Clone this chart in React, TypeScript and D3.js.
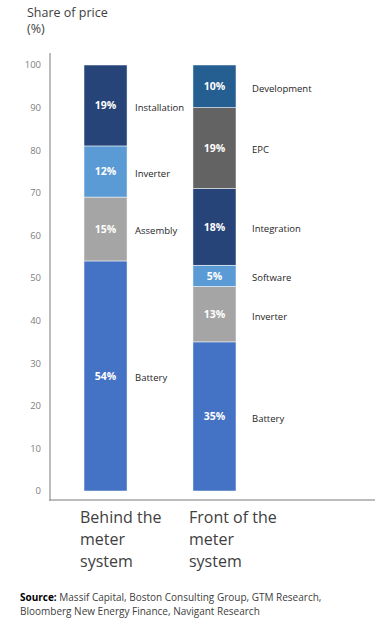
import { useEffect, useRef } from 'react'
import * as d3 from 'd3'

const systems = ['Behind the meter system', 'Front of the meter system']
const systemLines = [['Behind the', 'meter', 'system'], ['Front of the', 'meter', 'system']]

// segments bottom to top
const behindParts = ['Battery', 'Assembly', 'Inverter', 'Installation']
const behindShares = [54, 15, 12, 19]
const behindColors = ['#4472C4', '#A5A5A5', '#5B9BD5', '#264478']

const frontParts = ['Battery', 'Inverter', 'Software', 'Integration', 'EPC', 'Development']
const frontShares = [35, 13, 5, 18, 19, 10]
const frontColors = ['#4472C4', '#A5A5A5', '#5B9BD5', '#264478', '#636363', '#255E91']

const yTicks = [0, 10, 20, 30, 40, 50, 60, 70, 80, 90, 100]

export default function App() {
  const svgRef = useRef<SVGSVGElement>(null)

  useEffect(() => {
    if (!svgRef.current) return
    const svg = d3.select(svgRef.current)
    svg.selectAll('*').remove()

    const font = 'Open Sans, Noto Sans, sans-serif'

    const y = d3.scaleLinear().domain([0, 100]).range([491, 65])
    const x = d3.scaleBand<string>()
      .domain(systems)
      .range([84, 236])
      .paddingInner(0.605)
      .paddingOuter(0)

    // title
    svg.append('text')
      .attr('x', 27).attr('y', 17)
      .style('font-family', font).style('font-size', '12.5px').style('fill', '#404040')
      .text('Share of price')
    svg.append('text')
      .attr('x', 27).attr('y', 33)
      .style('font-family', font).style('font-size', '12.5px').style('fill', '#404040')
      .text('(%)')

    // axes
    svg.append('line')
      .attr('x1', 50).attr('x2', 50).attr('y1', 53).attr('y2', 501)
      .attr('stroke', '#a6a6a6').attr('stroke-width', 1.5)
    svg.append('line')
      .attr('x1', 49).attr('x2', 375).attr('y1', 500).attr('y2', 500)
      .attr('stroke', '#a6a6a6').attr('stroke-width', 1.5)

    svg.append('g').selectAll('text')
      .data(yTicks)
      .join('text')
      .attr('x', 41)
      .attr('y', d => y(d))
      .attr('dy', '0.35em')
      .attr('text-anchor', 'end')
      .style('font-family', font).style('font-size', '9.5px').style('fill', '#808080')
      .text(d => d)

    const stacks = [
      { parts: behindParts, shares: behindShares, colors: behindColors, gap: 8 },
      { parts: frontParts, shares: frontShares, colors: frontColors, gap: 16 },
    ]

    stacks.forEach((s, i) => {
      const bx = x(systems[i]) as number
      const bw = x.bandwidth()
      let base = 0
      s.parts.forEach((p, j) => {
        const v = s.shares[j]
        const y0 = y(base)
        const y1 = y(base + v)
        const mid = (y0 + y1) / 2
        svg.append('rect')
          .attr('x', bx).attr('y', y1)
          .attr('width', bw).attr('height', y0 - y1)
          .attr('fill', s.colors[j])
          .attr('stroke', '#ffffff').attr('stroke-width', 0.5)
        svg.append('text')
          .attr('x', bx + bw / 2).attr('y', mid)
          .attr('dy', '0.35em')
          .attr('text-anchor', 'middle')
          .style('font-family', font).style('font-size', '10.5px')
          .style('font-weight', 'bold').style('fill', '#ffffff')
          .text(`${v}%`)
        svg.append('text')
          .attr('x', bx + bw + s.gap).attr('y', mid + 2)
          .attr('dy', '0.35em')
          .style('font-family', font).style('font-size', '9.5px').style('fill', '#262626')
          .text(p)
        base += v
      })

      systemLines[i].forEach((line, k) => {
        svg.append('text')
          .attr('x', bx - 4).attr('y', 523 + k * 22)
          .style('font-family', font).style('font-size', '16px').style('fill', '#404040')
          .text(line)
      })
    })

    // source
    const src = svg.append('text')
      .attr('x', 20).attr('y', 601)
      .style('font-family', font).style('font-size', '10px').style('fill', '#404040')
    src.append('tspan').style('font-weight', 'bold').style('fill', '#000').text('Source:')
    src.append('tspan').text(' Massif Capital, Boston Consulting Group, GTM Research,')
    svg.append('text')
      .attr('x', 20).attr('y', 615)
      .style('font-family', font).style('font-size', '10px').style('fill', '#404040')
      .text('Bloomberg New Energy Finance, Navigant Research')
  }, [])

  return (
    <svg
      ref={svgRef}
      width={389}
      height={625}
      style={{ position: 'absolute', left: 0, top: 0, background: '#fff' }}
    />
  )
}
